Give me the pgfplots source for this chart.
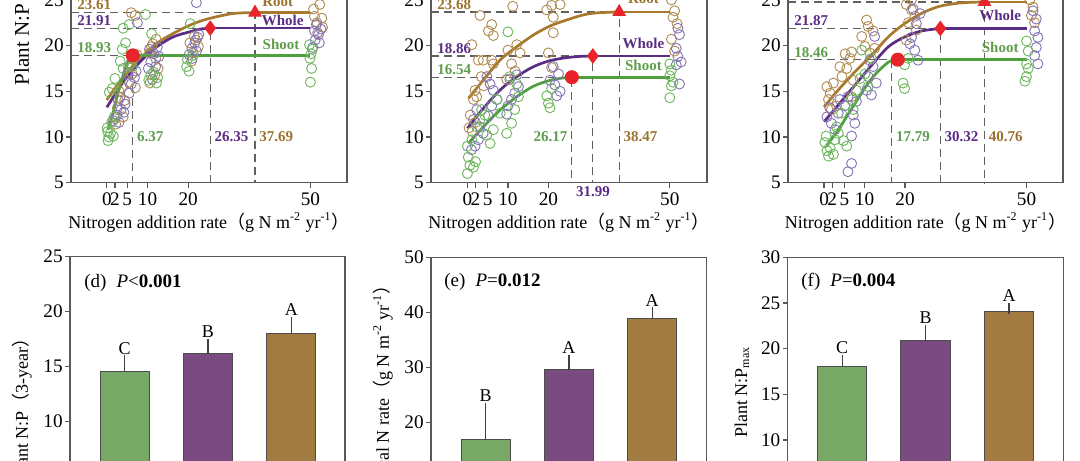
\documentclass[border=0pt]{standalone}
\usepackage{pgfplots}
\pgfplotsset{compat=1.18}
\usepackage{fontspec}
\setmainfont{Liberation Serif}
\newfontfamily\cjk{Noto Sans CJK SC}
\definecolor{gS}{HTML}{4E9F3D}
\definecolor{gSc}{HTML}{6CB65C}
\definecolor{gT}{HTML}{5E9E4C}
\definecolor{pW}{HTML}{5B2C83}
\definecolor{pWc}{HTML}{8473B6}
\definecolor{pT}{HTML}{5B2C83}
\definecolor{bR}{HTML}{A8782C}
\definecolor{bRc}{HTML}{B08B50}
\definecolor{bT}{HTML}{9A7330}
\definecolor{mk}{HTML}{E8232A}
\definecolor{dl}{HTML}{606060}
\definecolor{barG}{HTML}{78A866}
\definecolor{barP}{HTML}{7A4B80}
\definecolor{barB}{HTML}{A27B40}
\tikzset{
  dsh/.style={dl, line width=0.6pt, dash pattern=on 4pt off 2.5pt},
  lab/.style={font=\fontsize{7.5}{9}\selectfont\bfseries, inner sep=1pt},
}
\pgfplotsset{
  panel/.style={scale only axis, anchor=south west,
    axis line style={draw=black!65, line width=0.6pt},
    tick style={black!65, line width=0.6pt},
    tick align=outside, major tick length=2.5pt,
    xtick pos=bottom, ytick pos=left,
    ticklabel style={font=\fontsize{9.6}{11}\selectfont},
    yticklabel style={inner sep=1pt},
    /pgf/number format/assume math mode=true,
    clip=false},
  top/.style={panel, ymin=5, ymax=27, height=100.55pt,
    ytick={5,10,15,20,25}, xtick={0,2,5,10,20,50},
    xticklabel style={inner sep=2.5pt},
    xlabel={Nitrogen addition rate{\cjk （}g N m\textsuperscript{-2} yr\textsuperscript{-1}{\cjk ）}},
    xlabel style={at={(axis description cs:0.5,0)}, anchor=center, yshift=-20pt}},
  bot/.style={panel, ymin=0, xtick=\empty},
  sc/.style={only marks, mark=o, mark size=2.5pt, mark options={line width=0.45pt}},
  fit/.style={line width=1.35pt, smooth, tension=0.5},
  bb/.style={ybar, bar width=0.59, bar shift=0pt, draw=black!70, line width=0.5pt,
    error bars/y dir=plus, error bars/y explicit,
    error bars/error bar style={black!75, line width=0.6pt},
    error bars/error mark options={black!75, line width=0.6pt, mark size=2.8pt}},
}
\begin{document}
{\fontsize{9}{11}\selectfont
\begin{tikzpicture}
\useasboundingbox (0,0) rectangle (540pt,230pt);
\clip (0,0) rectangle (540pt,230pt);

% ---------------- (a) ----------------
\begin{axis}[top, at={(35.5pt,138.65pt)}, width=138pt, xmin=-8.8, xmax=59]
\addplot[sc, bRc] coordinates {(2.0,12.0)(2.6,13.2)(3.2,14.3)(3.6,15.4)(2.2,11.4)(4.0,12.2)(3.0,15.0)(4.4,14.0)
 (5.6,16.0)(6.2,16.9)(7.0,15.4)(6.6,18.6)(7.4,19.0)(6.0,23.6)(7.0,23.3)(5.3,17.6)
 (10.5,19.2)(11.3,20.2)(12.1,20.7)(11.8,16.8)(12.6,17.5)(10.6,15.9)(12.0,18.6)(11.0,19.9)
 (20.4,20.3)(21.2,19.2)(21.8,20.6)(22.5,19.9)(21.5,21.0)(20.8,18.3)
 (51.0,23.2)(52.3,24.5)(51.6,22.5)(52.8,23.0)(50.8,24.0)(53.0,22.0)(51.8,21.4)};
\addplot[sc, pWc] coordinates {(1.5,11.8)(2.5,12.4)(3.0,11.6)(3.5,13.0)(4.2,12.7)(2.8,14.0)(4.5,13.6)
 (5.5,14.8)(6.0,15.8)(6.8,16.5)(7.2,17.2)(6.0,18.0)(7.5,22.5)(5.0,16.9)
 (10.2,17.5)(10.8,18.2)(11.6,19.1)(12.4,19.8)(11.2,16.3)(12.0,17.7)(12.8,18.8)(10.5,19.6)
 (20.2,19.0)(20.9,19.7)(21.6,20.3)(22.3,20.9)(21.0,18.6)(22.0,19.4)(22.6,21.2)(22.0,24.7)
 (50.6,19.8)(51.2,20.6)(52.0,21.2)(52.6,21.8)(51.5,22.3)(52.2,20.3)(51.0,21.6)};
\addplot[sc, gSc] coordinates {(0.2,10.6)(0.5,10.0)(0.3,9.6)(0.9,10.4)(0.1,11.0)(1.6,10.1)(1.2,11.6)(1.8,12.2)(0.6,14.9)(1.3,15.3)(2.0,16.4)
 (3.3,18.3)(4.0,17.5)(3.8,19.6)(4.6,20.3)(4.0,21.9)(5.5,22.3)(5.8,18.0)(6.3,17.7)
 (10.3,16.2)(10.8,16.8)(11.5,17.1)(12.2,15.9)(11.0,21.3)(9.5,23.4)(12.5,16.5)
 (19.6,17.7)(19.8,18.5)(20.2,17.2)(20.5,22.4)(21.0,18.9)
 (49.8,20.1)(50.2,19.1)(49.9,18.6)(50.3,17.5)(50.0,16.0)(50.5,19.6)};
\draw[dsh] (axis cs:-8.8,23.61) -- (axis cs:36.4,23.61) -- (axis cs:36.4,5);
\draw[dsh] (axis cs:-8.8,21.91) -- (axis cs:25.4,21.91) -- (axis cs:25.4,5);
\draw[dsh] (axis cs:-8.8,18.93) -- (axis cs:6.37,18.93) -- (axis cs:6.37,5);
\addplot[fit, bR] coordinates {(0,14.05)(4.1,16.6)(8.2,18.6)(12.3,20.25)(16.4,21.35)(20.5,22.25)(24.6,22.9)(30.3,23.46)(33.5,23.58)(36.4,23.61)};
\addplot[bR, line width=1.35pt] coordinates {(36.4,23.61)(50,23.61)};
\addplot[fit, pW] coordinates {(0,13.25)(4.1,16.05)(8.2,18.24)(12.3,19.88)(16.4,20.97)(20.5,21.52)(23,21.8)(25.4,21.91)};
\addplot[pW, line width=1.35pt] coordinates {(25.4,21.91)(50,21.91)};
\addplot[fit, gS] coordinates {(0.3,10.8)(1.5,12.6)(2.5,14.4)(3.5,16.0)(4.5,17.4)(5.5,18.5)(6.37,18.93)};
\addplot[gS, line width=1.35pt] coordinates {(6.37,18.93)(50,18.93)};
\addplot[only marks, mark=triangle*, mark size=3.6pt, mk] coordinates {(36.4,23.61)};
\addplot[only marks, mark=diamond*, mark size=3.6pt, mk] coordinates {(25.4,21.91)};
\addplot[only marks, mark=*, mark size=3.3pt, mk] coordinates {(6.37,18.93)};
\node[lab, text=bT, anchor=south west, xshift=2pt] at (axis cs:-8.8,23.61) {23.61};
\node[lab, text=pT, anchor=south west, xshift=2pt] at (axis cs:-8.8,21.91) {21.91};
\node[lab, text=gT, anchor=south west, xshift=2pt] at (axis cs:-8.8,18.93) {18.93};
\node[lab, text=gT, anchor=west, inner sep=2pt] at (axis cs:6.37,10) {6.37};
\node[lab, text=pT, anchor=west, inner sep=2pt] at (axis cs:25.4,10) {26.35};
\node[lab, text=bT, anchor=west, inner sep=2pt] at (axis cs:36.4,10) {37.69};
\node[lab, text=bT] at (axis cs:42,24.8) {Root};
\node[lab, text=pT] at (axis cs:43.2,22.7) {Whole};
\node[lab, text=gT] at (axis cs:42.8,20.1) {Shoot};
\end{axis}

% ---------------- (b) ----------------
\begin{axis}[top, at={(215.5pt,138.65pt)}, width=138pt, xmin=-9, xmax=59.2]
\addplot[sc, bRc] coordinates {(1.1,20.1)(2.7,18.4)(3.9,18.4)(6.0,18.4)(6.4,18.0)(6.0,22.3)(5.2,21.6)(6.4,21.1)(3.1,23.3)(1.9,15.1)(2.3,14.4)(1.5,14.1)(0.7,12.4)(0.4,11.0)(1.2,10.6)(2.0,11.6)(4.0,15.6)(3.4,16.6)
 (10.0,19.5)(11.2,24.3)(12.2,20.1)(10.9,18.0)(13.0,19.2)(9.7,16.3)(11.8,17.2)
 (19.6,23.9)(20.8,24.4)(22.9,24.5)(21.2,23.1)(21.2,21.4)(20.0,19.2)(20.8,17.6)
 (50.4,25.0)(51.2,23.8)(50.8,23.1)(50.4,20.7)(51.2,19.4)(51.8,22.4)};
\addplot[sc, pWc] coordinates {(1.0,8.6)(1.9,9.0)(2.7,9.7)(3.9,10.4)(3.1,11.1)(1.5,11.9)(2.3,13.0)
 (5.2,12.3)(6.0,13.4)(7.3,14.1)(6.4,15.1)(5.6,15.8)(4.8,16.6)
 (10.0,13.4)(10.9,14.1)(11.7,14.8)(12.6,15.5)(10.5,16.3)(12.2,16.8)(9.7,12.5)
 (20.4,16.2)(21.6,15.7)(22.5,16.9)(22.9,15.0)(22.1,14.5)(21.2,17.7)
 (52.0,21.9)(52.4,21.2)(51.6,19.7)(52.0,18.8)(52.8,18.2)(51.6,17.9)(52.4,15.8)};
\addplot[sc, gSc] coordinates {(0,6.0)(0.6,6.9)(0.2,7.8)(1.5,6.7)(0,9.0)(1.1,9.7)(2.0,7.3)
 (2.3,11.1)(3.1,11.9)(4.3,12.4)(4.8,10.2)(3.5,13.0)(5.6,9.3)
 (6.4,10.8)(8.1,12.6)(7.3,14.1)(9.7,10.4)(10.0,21.5)
 (10.9,11.5)(11.7,13.0)(12.6,14.4)(12.2,15.8)(10.5,16.6)
 (19.6,14.5)(20.0,13.7)(20.4,13.2)(20.8,15.3)
 (50.0,18.0)(50.4,17.3)(50.0,16.7)(50.4,15.6)(50.0,14.3)(50.8,16.0)};
\draw[dsh] (axis cs:-9,23.68) -- (axis cs:37.5,23.68) -- (axis cs:37.5,5);
\draw[dsh] (axis cs:-9,18.86) -- (axis cs:31.0,18.86) -- (axis cs:31.0,5);
\draw[dsh] (axis cs:-9,16.54) -- (axis cs:25.8,16.54) -- (axis cs:25.8,5);
\addplot[fit, bR] coordinates {(0.25,14.23)(3.95,16.24)(8.07,18.42)(12.2,19.88)(16.3,21.16)(20.4,22.14)(24.5,22.8)(28.6,23.35)(32,23.58)(37.5,23.68)};
\addplot[bR, line width=1.35pt] coordinates {(37.5,23.68)(50,23.68)};
\addplot[fit, pW] coordinates {(0,10.95)(3.95,13.14)(8.07,15.14)(12.2,16.6)(16.3,17.69)(20.4,18.35)(24.5,18.68)(28,18.82)(31,18.86)};
\addplot[pW, line width=1.35pt] coordinates {(31,18.86)(50,18.86)};
\addplot[fit, gS] coordinates {(0.25,9.31)(3.95,11.13)(8.07,12.95)(12.2,14.41)(16.3,15.55)(20.4,16.2)(23.5,16.45)(25.8,16.54)};
\addplot[gS, line width=1.35pt] coordinates {(25.8,16.54)(50,16.54)};
\addplot[only marks, mark=triangle*, mark size=3.6pt, mk] coordinates {(37.5,23.68)};
\addplot[only marks, mark=diamond*, mark size=3.6pt, mk] coordinates {(31.0,18.86)};
\addplot[only marks, mark=*, mark size=3.3pt, mk] coordinates {(25.8,16.54)};
\node[lab, text=bT, anchor=south west, xshift=2pt] at (axis cs:-9,23.68) {23.68};
\node[lab, text=pT, anchor=south west, xshift=2pt] at (axis cs:-9,18.86) {18.86};
\node[lab, text=gT, anchor=south west, xshift=2pt] at (axis cs:-9,16.54) {16.54};
\node[lab, text=gT, anchor=east, inner sep=2pt] at (axis cs:25.8,10) {26.17};
\node[lab, text=pT, anchor=north, inner sep=1.5pt] at (axis cs:31.0,5) {31.99};
\node[lab, text=bT, anchor=west, inner sep=2pt] at (axis cs:37.5,10) {38.47};
\node[lab, text=bT] at (axis cs:43.5,25.1) {Root};
\node[lab, text=pT] at (axis cs:43.5,20.25) {Whole};
\node[lab, text=gT] at (axis cs:43.5,17.8) {Shoot};
\end{axis}

% ---------------- (c) ----------------
\begin{axis}[top, at={(394pt,138.65pt)}, width=137.5pt, xmin=-8.9, xmax=59]
\addplot[sc, bRc] coordinates {(0.7,15.5)(1.5,14.8)(2.3,15.9)(1.1,14.1)(3.1,13.4)(1.8,13.0)
 (4.4,16.6)(5.6,17.5)(6.4,18.6)(5.2,19.1)(6.8,19.3)(3.9,17.7)(7.2,16.2)(6.8,14.4)
 (9.3,21.0)(10.9,22.1)(12.1,21.6)(10.1,19.9)(12.5,19.7)(11.3,19.2)(10.5,22.8)
 (20.3,24.5)(21.6,23.9)(22.4,23.2)(20.8,22.5)(22.8,21.7)(20.3,20.6)(21.6,25.0)
 (50.8,25.0)(51.2,23.3)(52.0,22.5)(51.6,24.2)};
\addplot[sc, pWc] coordinates {(0.7,12.2)(1.8,11.5)(2.7,10.8)(3.5,12.6)(1.4,13.2)(3.9,14.1)
 (5.1,13.4)(5.9,14.4)(7.2,12.4)(7.6,11.5)(6.8,7.1)(5.9,6.2)(8.0,13.9)(6.8,10.1)
 (10.5,15.1)(11.7,14.6)(12.9,15.9)(12.1,17.7)(10.9,16.6)(12.5,21.0)(11.3,18.4)
 (21.6,20.9)(22.8,22.4)(23.7,23.5)(22.4,19.5)(23.2,18.4)(21.2,20.2)(22.0,24.0)
 (51.6,23.8)(52.4,22.9)(52.0,21.6)(52.8,20.9)(52.4,19.8)(52.0,18.9)(52.8,18.0)};
\addplot[sc, gSc] coordinates {(0.2,9.4)(0.7,8.5)(1.1,7.9)(1.5,8.8)(0.5,10.1)(2.3,8.1)
 (2.7,9.7)(3.5,10.4)(3.1,11.1)(4.3,12.6)(4.8,9.6)(5.6,9.0)
 (6.8,14.1)(8.0,15.1)(7.2,13.0)(8.9,16.4)
 (9.3,19.5)(10.1,16.9)(11.7,18.6)(10.9,15.5)
 (19.5,15.9)(19.9,15.3)(19.9,17.9)(20.8,18.6)
 (50.0,20.5)(50.4,19.4)(50.0,18.0)(50.4,17.5)(50.0,16.6)(49.6,16.1)};
\draw[dsh] (axis cs:-8.9,24.77) -- (axis cs:39.6,24.77) -- (axis cs:39.6,5);
\draw[dsh] (axis cs:-8.9,21.87) -- (axis cs:28.7,21.87) -- (axis cs:28.7,5);
\draw[dsh] (axis cs:-8.9,18.46) -- (axis cs:16.7,18.46) -- (axis cs:16.7,5);
\addplot[fit, bR] coordinates {(0,13.3)(3.5,15.14)(7.65,17.14)(11.8,18.97)(15.9,20.97)(20,22.44)(24.1,23.53)(28.2,24.26)(32.3,24.6)(36,24.73)(39.6,24.77)};
\addplot[bR, line width=1.35pt] coordinates {(39.6,24.77)(50,24.77)};
\addplot[fit, pW] coordinates {(0,11.67)(3.5,13.5)(7.65,15.69)(11.8,17.88)(15.9,19.88)(20,20.97)(24.1,21.6)(28.7,21.87)};
\addplot[pW, line width=1.35pt] coordinates {(28.7,21.87)(50,21.87)};
\addplot[fit, gS] coordinates {(0.4,8.94)(3.5,10.77)(7.65,13.69)(11.8,16.42)(15.9,18.2)(18.2,18.46)};
\addplot[gS, line width=1.35pt] coordinates {(18.2,18.46)(50,18.46)};
\addplot[only marks, mark=triangle*, mark size=3.6pt, mk] coordinates {(39.6,24.77)};
\addplot[only marks, mark=diamond*, mark size=3.6pt, mk] coordinates {(28.7,21.87)};
\addplot[only marks, mark=*, mark size=3.3pt, mk] coordinates {(18.2,18.46)};
\node[lab, text=bT, anchor=south west, xshift=2pt] at (axis cs:-8.9,24.77) {24.77};
\node[lab, text=pT, anchor=south west, xshift=2pt] at (axis cs:-8.9,21.87) {21.87};
\node[lab, text=gT, anchor=south west, xshift=2pt] at (axis cs:-8.9,18.46) {18.46};
\node[lab, text=gT, anchor=west, inner sep=2pt] at (axis cs:16.7,10) {17.79};
\node[lab, text=pT, anchor=west, inner sep=2pt] at (axis cs:28.7,10) {30.32};
\node[lab, text=bT, anchor=west, inner sep=2pt] at (axis cs:39.6,10) {40.76};
\node[lab, text=bT] at (axis cs:43.5,26.2) {Root};
\node[lab, text=pT] at (axis cs:43.5,23.27) {Whole};
\node[lab, text=gT] at (axis cs:43.5,19.77) {Shoot};
\end{axis}

% ---------------- (d) ----------------
\begin{axis}[bot, at={(35pt,-35.85pt)}, width=137.5pt, height=137.5pt, ymax=25, xmin=0.343, xmax=3.645, ytick={0,5,10,15,20,25}]
\addplot[bb, fill=barG] coordinates {(1,14.58) +- (0,0.94)};
\addplot[bb, fill=barP] coordinates {(2,16.18) +- (0,0.85)};
\addplot[bb, fill=barB] coordinates {(3,18.03) +- (0,0.97)};
\node[anchor=south, inner sep=0pt, yshift=3.2pt] at (axis cs:1,15.52) {C};
\node[anchor=south, inner sep=0pt, yshift=3.2pt] at (axis cs:2,17.03) {B};
\node[anchor=south, inner sep=0pt, yshift=3.2pt] at (axis cs:3,19.0) {A};
\end{axis}

% ---------------- (e) ----------------
\begin{axis}[bot, at={(215.5pt,-36.15pt)}, width=137.85pt, height=137.5pt, ymax=50, xmin=0.343, xmax=3.655, ytick={0,10,20,30,40,50}]
\addplot[bb, fill=barG] coordinates {(1,16.8) +- (0,5.7)};
\addplot[bb, fill=barP] coordinates {(2,29.6) +- (0,1.7)};
\addplot[bb, fill=barB] coordinates {(3,38.9) +- (0,1.0)};
\node[anchor=south, inner sep=0pt, yshift=3.2pt] at (axis cs:1,22.5) {B};
\node[anchor=south, inner sep=0pt, yshift=3.2pt] at (axis cs:2,31.3) {A};
\node[anchor=south, inner sep=0pt, yshift=3.2pt] at (axis cs:3,39.9) {A};
\end{axis}

% ---------------- (f) ----------------
\begin{axis}[bot, at={(393.85pt,-35.65pt)}, width=137.8pt, height=137pt, ymax=30, xmin=0.347, xmax=3.651, ytick={0,5,10,15,20,25,30}]
\addplot[bb, fill=barG] coordinates {(1,18.0) +- (0,0.7)};
\addplot[bb, fill=barP] coordinates {(2,20.87) +- (0,1.09)};
\addplot[bb, fill=barB] coordinates {(3,24.04) +- (0,0.36)};
\node[anchor=south, inner sep=0pt, yshift=3.2pt] at (axis cs:1,18.7) {C};
\node[anchor=south, inner sep=0pt, yshift=3.2pt] at (axis cs:2,21.96) {B};
\node[anchor=south, inner sep=0pt, yshift=3.2pt] at (axis cs:3,24.4) {A};
\end{axis}

% titles and y labels
\node[anchor=west, font=\fontsize{9.5}{11}\selectfont] at (39pt,88.5pt) {(d)\; \textit{P}<\textbf{0.001}};
\node[anchor=west, font=\fontsize{9.5}{11}\selectfont] at (219pt,89.15pt) {(e)\; \textit{P}=\textbf{0.012}};
\node[anchor=west, font=\fontsize{9.5}{11}\selectfont] at (397.5pt,89.15pt) {(f)\; \textit{P}=\textbf{0.004}};
\node[rotate=90, anchor=west, font=\fontsize{10.5}{12}\selectfont] at (10.85pt,184.15pt) {Plant N:P};
\node[rotate=90, anchor=east] at (11pt,68.5pt) {Plant N:P{\cjk （}3-year{\cjk ）}};
\node[rotate=90, anchor=east] at (191.5pt,95pt) {Critical N rate{\cjk （}g N m\textsuperscript{-2} yr\textsuperscript{-1}{\cjk ）}};
\node[rotate=90, anchor=east] at (371pt,60pt) {Plant N:P\textsubscript{max}};
\end{tikzpicture}}
\end{document}
